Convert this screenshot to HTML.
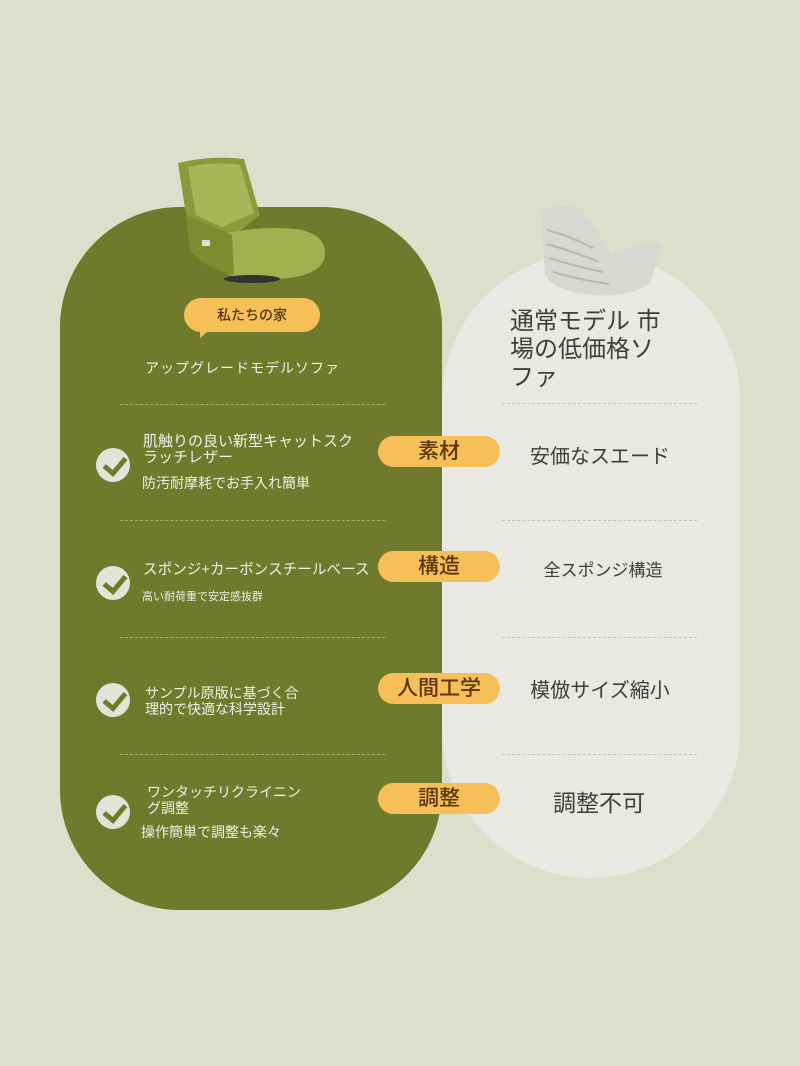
<!DOCTYPE html>
<html><head><meta charset="utf-8"><style>
*{margin:0;padding:0;box-sizing:border-box}
body{width:800px;height:1066px;background:#dcdfcc;position:relative;overflow:hidden;font-family:"Liberation Sans","Noto Sans CJK JP",sans-serif}
.a{position:absolute}
.light{left:442px;top:252px;width:298px;height:626px;background:#e9e8e3;border-radius:150px}
.green{left:60px;top:207px;width:382px;height:703px;background:#6f7a2d;border-radius:120px}
.dl{position:absolute;height:0;border-top:1.5px dashed rgba(210,210,190,.55)}
.dr{position:absolute;height:0;border-top:1.5px dashed #c4c4bd}
.pill{position:absolute;left:378px;width:122px;height:31px;background:#f6bf57;border-radius:16px;color:#5a3608;font-size:21px;text-align:center;line-height:31px;font-weight:500}
.w{color:#f1f0e6;position:absolute;white-space:nowrap}
.r{color:#3e3e3e;position:absolute;text-align:center;white-space:nowrap}
.chk{position:absolute;left:96px;width:34px;height:34px;border-radius:50%;background:#e4e3d8}
.chk:after{content:"";position:absolute;left:12px;top:5px;width:9px;height:17px;border:solid #6f7a2d;border-width:0 5px 5px 0;transform:rotate(40deg)}
</style></head><body>
<div class="a light"></div>
<div class="a green"></div>

<!-- green chair -->
<svg class="a" style="left:172px;top:155px" width="165" height="130" viewBox="0 0 165 130">
<path d="M6 8 Q40 0 72 4 L88 60 L60 82 L25 90 L14 60 Z" fill="#8c9a3c"/>
<path d="M16 12 Q45 6 68 10 L82 58 L50 72 L24 60 Z" fill="#a8b65a"/>
<path d="M40 82 Q80 70 125 74 Q158 80 152 105 Q145 122 105 124 L70 124 Q45 118 40 100 Z" fill="#a2b050"/>
<path d="M14 60 L60 80 L62 120 Q30 112 18 95 Z" fill="#7d8b31"/>
<rect x="30" y="85" width="8" height="6" fill="#ddd"/>
<ellipse cx="80" cy="124" rx="28" ry="4" fill="#333"/>
</svg>

<!-- grey chair -->
<svg class="a" style="left:535px;top:200px" width="130" height="100" viewBox="0 0 130 100">
<path d="M6 12 Q25 2 45 8 Q65 30 75 55 L105 44 Q125 38 126 46 L115 84 Q90 98 60 95 Q20 92 10 75 Z" fill="#d8d7d2"/>
<g stroke="#b8b7b2" stroke-width="2" fill="none">
<path d="M12 30 Q35 36 58 48"/><path d="M12 44 Q40 52 64 62"/><path d="M14 58 Q40 66 68 72"/><path d="M18 72 Q45 80 74 84"/></g>
</svg>

<div class="pill" style="left:184px;top:298px;width:136px;height:34px;line-height:34px;font-size:14px;border-radius:17px">私たちの家</div>
<div class="a" style="left:200px;top:328px;width:0;height:0;border-left:12px solid #f6bf57;border-bottom:10px solid transparent"></div>

<div class="w" style="left:145px;top:358px;font-size:14px;letter-spacing:1px">アップグレードモデルソファ</div>
<div class="r" style="left:510px;top:308px;font-size:24px;text-align:left;line-height:28px;width:180px;white-space:normal">通常モデル 市<br>場の低価格ソ<br>ファ</div>

<div class="dl" style="left:120px;top:404px;width:265px"></div>
<div class="dr" style="left:502px;top:403px;width:195px"></div>
<div class="dl" style="left:120px;top:520px;width:265px"></div>
<div class="dr" style="left:502px;top:520px;width:195px"></div>
<div class="dl" style="left:120px;top:637px;width:265px"></div>
<div class="dr" style="left:502px;top:637px;width:195px"></div>
<div class="dl" style="left:120px;top:754px;width:265px"></div>
<div class="dr" style="left:502px;top:754px;width:195px"></div>

<!-- row 1 -->
<div class="chk" style="top:448px"></div>
<div class="w" style="left:143px;top:434px;font-size:15px;line-height:16px">肌触りの良い新型キャットスク<br>ラッチレザー</div>
<div class="w" style="left:142px;top:473px;font-size:14px">防汚耐摩耗でお手入れ簡単</div>
<div class="pill" style="top:436px">素材</div>
<div class="r" style="left:510px;top:440px;width:180px;font-size:20px">安価なスエード</div>

<!-- row 2 -->
<div class="chk" style="top:566px"></div>
<div class="w" style="left:143px;top:558px;font-size:14.6px">スポンジ+カーボンスチールベース</div>
<div class="w" style="left:142px;top:588px;font-size:11px">高い耐荷重で安定感抜群</div>
<div class="pill" style="top:551px">構造</div>
<div class="r" style="left:513px;top:556px;width:180px;font-size:17px">全スポンジ構造</div>

<!-- row 3 -->
<div class="chk" style="top:683px"></div>
<div class="w" style="left:145px;top:685px;font-size:14px;line-height:16px">サンプル原版に基づく合<br>理的で快適な科学設計</div>
<div class="pill" style="top:673px">人間工学</div>
<div class="r" style="left:510px;top:674px;width:180px;font-size:20px">模倣サイズ縮小</div>

<!-- row 4 -->
<div class="chk" style="top:795px"></div>
<div class="w" style="left:147px;top:784px;font-size:14px;line-height:16px">ワンタッチリクライニン<br>グ調整</div>
<div class="w" style="left:141px;top:822px;font-size:14px">操作簡単で調整も楽々</div>
<div class="pill" style="top:783px">調整</div>
<div class="r" style="left:509px;top:784px;width:180px;font-size:23px">調整不可</div>
</body></html>
